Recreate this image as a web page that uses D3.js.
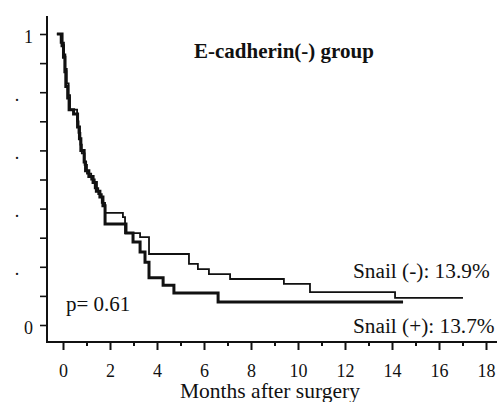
<!DOCTYPE html>
<html>
<head>
<meta charset="utf-8">
<script src="https://cdn.jsdelivr.net/npm/d3@7/dist/d3.min.js"></script>
<style>
  body { margin: 0; background: #fff; }
  svg { display: block; }
  text { font-family: "Liberation Serif", "Times New Roman", serif; fill: #111; }
</style>
</head>
<body>
<svg id="chart" width="497" height="402"></svg>
<script>
// ---- data ----
const xTickValues = [0, 2, 4, 6, 8, 10, 12, 14, 16, 18];
const xMinorValues = [1, 3, 5, 7, 9, 11, 13, 15, 17];
const yTickValues = [0, 0.1, 0.2, 0.3, 0.4, 0.5, 0.6, 0.7, 0.8, 0.9, 1];
const yTickLabels = {"0": "0", "0.2": ".", "0.4": ".", "0.6": ".", "0.8": ".", "1": "1"};

// Snail (+) — thick line: event times (months) and survival after each event
const snailPosTimes = [-0.26, -0.04, 0.02, 0.08, 0.12, 0.20, 0.26, 0.45, 0.62, 0.70, 0.76, 0.90, 0.96, 1.10, 1.28, 1.42, 1.57, 1.70, 1.79, 2.68, 2.98, 3.28, 3.49, 3.66, 4.26, 4.72, 6.60, 14.47];
const snailPosSurv  = [1.00, 0.96, 0.92, 0.87, 0.82, 0.78, 0.74, 0.725, 0.68, 0.64, 0.60, 0.56, 0.53, 0.51, 0.49, 0.46, 0.44, 0.41, 0.347, 0.316, 0.285, 0.251, 0.216, 0.162, 0.137, 0.110, 0.079, 0.079];

// Snail (-) — thin line
const snailNegTimes = [-0.26, -0.10, 0.04, 0.10, 0.16, 0.24, 0.30, 0.60, 0.66, 0.74, 0.80, 0.92, 1.02, 1.20, 1.35, 1.50, 1.65, 1.79, 2.55, 2.64, 3.28, 3.66, 5.36, 5.74, 6.21, 7.11, 9.40, 10.51, 14.13, 17.02];
const snailNegSurv  = [1.00, 0.97, 0.93, 0.88, 0.83, 0.79, 0.74, 0.70, 0.66, 0.62, 0.59, 0.55, 0.52, 0.50, 0.47, 0.45, 0.42, 0.385, 0.371, 0.316, 0.302, 0.244, 0.210, 0.192, 0.175, 0.158, 0.141, 0.113, 0.093, 0.093];

const titleText = "E-cadherin(-) group";
const xLabelText = "Months after surgery";
const pText = "p= 0.61";
const negLabel = "Snail (-): 13.9%";
const posLabel = "Snail (+): 13.7%";

// ---- chart ----
const svg = d3.select("#chart");
const x = d3.scaleLinear().domain([0, 18]).range([63, 486]);
const y = d3.scaleLinear().domain([0, 1]).range([325, 34]);
const axisX0 = 47, axisY0 = 342;

// axis lines
svg.append("line")
  .attr("x1", axisX0).attr("x2", axisX0).attr("y1", 16).attr("y2", axisY0 + 1)
  .attr("stroke", "#111").attr("stroke-width", 2);
svg.append("line")
  .attr("x1", axisX0 - 1).attr("x2", 497).attr("y1", axisY0).attr("y2", axisY0)
  .attr("stroke", "#111").attr("stroke-width", 2);

// x axis major
const gx = svg.append("g").attr("transform", `translate(0,${axisY0})`)
  .call(d3.axisBottom(x).tickValues(xTickValues).tickSize(8).tickPadding(14).tickFormat(d3.format("d")));
gx.select(".domain").remove();
gx.selectAll(".tick line").attr("stroke", "#111").attr("stroke-width", 2);
gx.selectAll(".tick text").attr("font-size", 18).attr("fill", "#111");

// x axis minor
const gxm = svg.append("g").attr("transform", `translate(0,${axisY0})`)
  .call(d3.axisBottom(x).tickValues(xMinorValues).tickSize(4).tickFormat(""));
gxm.select(".domain").remove();
gxm.selectAll(".tick line").attr("stroke", "#111").attr("stroke-width", 2);

// y axis
const gy = svg.append("g").attr("transform", `translate(${axisX0},0)`)
  .call(d3.axisLeft(y).tickValues(yTickValues).tickSize(7).tickPadding(7)
    .tickFormat(d => { const k = String(Math.round(d * 10) / 10); return yTickLabels[k] || ""; }));
gy.select(".domain").remove();
gy.selectAll(".tick line").attr("stroke", "#111").attr("stroke-width", 1.6);
gy.selectAll(".tick text").attr("font-size", 18).attr("fill", "#111").attr("dy", "0.45em");
gy.selectAll(".tick text").filter(function() { return this.textContent === "."; })
  .attr("x", -30).attr("text-anchor", "middle");

// curves
const line = d3.line().x(d => x(d[0])).y(d => y(d[1])).curve(d3.curveStepAfter);
const negData = snailNegTimes.map((t, i) => [t, snailNegSurv[i]]);
const posData = snailPosTimes.map((t, i) => [t, snailPosSurv[i]]);

svg.append("path").datum(negData).attr("d", line)
  .attr("fill", "none").attr("stroke", "#111").attr("stroke-width", 1.8);
svg.append("path").datum(posData).attr("d", line)
  .attr("fill", "none").attr("stroke", "#111").attr("stroke-width", 3);

// texts
svg.append("text").text(titleText)
  .attr("x", 194).attr("y", 58).attr("font-size", 21).attr("font-weight", "bold");
svg.append("text").text(pText)
  .attr("x", 66).attr("y", 311).attr("font-size", 21);
svg.append("text").text(negLabel)
  .attr("x", 353).attr("y", 278).attr("font-size", 21.3);
svg.append("text").text(posLabel)
  .attr("x", 353).attr("y", 333).attr("font-size", 21.3);
svg.append("text").text(xLabelText)
  .attr("x", 180).attr("y", 398).attr("font-size", 21.5);
</script>
</body>
</html>
